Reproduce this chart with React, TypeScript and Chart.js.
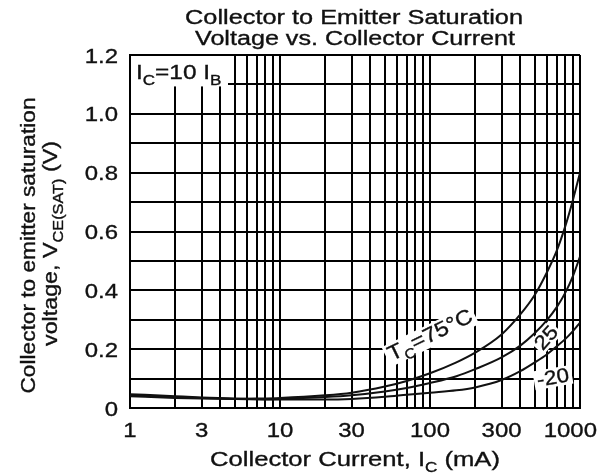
import React, { useEffect, useRef } from 'react';
import { Chart, registerables } from 'chart.js';

Chart.register(...registerables);

// Collector current (mA)
const currents = [1, 2, 3, 5, 7, 10, 20, 30, 50, 70, 100, 150, 200, 300, 400, 500, 600, 700, 800, 900, 1000];
// VCE(SAT) (V) per case temperature
const vce75 = [0.040, 0.034, 0.032, 0.031, 0.032, 0.034, 0.043, 0.052, 0.073, 0.092, 0.118, 0.155, 0.188, 0.250, 0.318, 0.385, 0.460, 0.535, 0.620, 0.710, 0.800];
const vce25 = [0.043, 0.037, 0.034, 0.031, 0.030, 0.031, 0.037, 0.043, 0.056, 0.068, 0.085, 0.108, 0.132, 0.172, 0.212, 0.255, 0.298, 0.343, 0.393, 0.450, 0.515];
const vceM20 = [0.047, 0.040, 0.036, 0.032, 0.030, 0.029, 0.029, 0.031, 0.038, 0.045, 0.052, 0.060, 0.070, 0.095, 0.125, 0.155, 0.182, 0.210, 0.235, 0.262, 0.290];

const xGridValues = [1, 2, 3, 4, 5, 6, 7, 8, 9, 10, 20, 30, 40, 50, 60, 70, 80, 90, 100, 200, 300, 400, 500, 600, 700, 800, 900, 1000];
const xTickLabels = [1, 3, 10, 30, 100, 300, 1000];
const yTickLabels = [0, 0.2, 0.4, 0.6, 0.8, 1.0, 1.2];

const FONT = '"Liberation Sans", Arial, sans-serif';
const INK = '#111';

type Part = { t: string; sub?: boolean };

function measureParts(ctx: CanvasRenderingContext2D, parts: Part[], size: number) {
  let w = 0;
  for (const p of parts) {
    ctx.font = `${p.sub ? Math.round(size * 0.68) : size}px ${FONT}`;
    w += ctx.measureText(p.t).width;
  }
  return w;
}

function drawParts(
  ctx: CanvasRenderingContext2D,
  parts: Part[],
  x: number,
  y: number,
  o: { size: number; align?: 'left' | 'center' | 'right'; sx?: number; width?: number; rot?: number; bg?: number[] }
) {
  const w = measureParts(ctx, parts, o.size);
  const sx = o.width ? o.width / w : o.sx ?? 1;
  ctx.save();
  ctx.translate(x, y);
  if (o.rot) ctx.rotate((o.rot * Math.PI) / 180);
  ctx.scale(sx, 1);
  let cx = o.align === 'right' ? -w : o.align === 'left' ? 0 : -w / 2;
  if (o.bg) {
    const [padX, up, down] = o.bg;
    ctx.fillStyle = '#fff';
    ctx.fillRect(cx - padX / sx, -up, w + (2 * padX) / sx, up + down);
  }
  ctx.fillStyle = INK;
  ctx.strokeStyle = INK;
  ctx.lineWidth = 0.35;
  ctx.textBaseline = 'alphabetic';
  ctx.textAlign = 'left';
  for (const p of parts) {
    const s = p.sub ? Math.round(o.size * 0.68) : o.size;
    ctx.font = `${s}px ${FONT}`;
    const yy = p.sub ? o.size * 0.28 : 0;
    ctx.fillText(p.t, cx, yy);
    ctx.strokeText(p.t, cx, yy);
    cx += ctx.measureText(p.t).width;
  }
  ctx.restore();
}

const textPlugin = {
  id: 'textPlugin',
  beforeDatasetsDraw(chart: any) {
    const ctx = chart.ctx as CanvasRenderingContext2D;
    const { chartArea } = chart;
    const y = chart.scales.y;
    // white box behind the IC = 10 IB note
    ctx.save();
    ctx.fillStyle = '#fff';
    ctx.fillRect(chartArea.left + 1, chartArea.top + 1, 97, y.getPixelForValue(1.1) - chartArea.top + 1);
    ctx.restore();
  },
  afterDatasetsDraw(chart: any) {
    const ctx = chart.ctx as CanvasRenderingContext2D;
    const { chartArea } = chart;
    drawParts(ctx, [{ t: 'I' }, { t: 'C', sub: true }, { t: '=10 I' }, { t: 'B', sub: true }], chartArea.left + 6, chartArea.top + 24, {
      size: 20,
      align: 'left',
      sx: 1.22,
    });
    // curve labels
    drawParts(ctx, [{ t: 'T' }, { t: 'C', sub: true }, { t: '=75°C' }], 433, 341, {
      size: 21,
      sx: 1.12,
      rot: -26,
      bg: [3, 17, 5],
    });
    drawParts(ctx, [{ t: '25' }], 551, 342, { size: 20, sx: 1.12, rot: -48, bg: [2, 16, 3] });
    drawParts(ctx, [{ t: '-20' }], 554, 384, { size: 20, sx: 1.12, rot: -10, bg: [3, 16, 3] });
  },
  afterDraw(chart: any) {
    const ctx = chart.ctx as CanvasRenderingContext2D;
    const { chartArea, width } = chart;
    const x = chart.scales.x;
    const y = chart.scales.y;
    const cx = (chartArea.left + chartArea.right) / 2;
    // titles
    drawParts(ctx, [{ t: 'Collector to Emitter Saturation' }], cx - 1, 24, { size: 20, width: 338 });
    drawParts(ctx, [{ t: 'Voltage vs. Collector Current' }], cx, 45, { size: 20, width: 320 });
    // y tick labels
    for (const v of yTickLabels) {
      const label = v === 0 ? '0' : v.toFixed(1);
      drawParts(ctx, [{ t: label }], chartArea.left - 12, y.getPixelForValue(v) + 7.5, { size: 21, align: 'right', sx: 1.14 });
    }
    // x tick labels
    for (const v of xTickLabels) {
      const label = String(v);
      const w = measureParts(ctx, [{ t: label }], 21) * 1.14;
      let px = x.getPixelForValue(v);
      if (px + w / 2 > width - 16) px = width - 16 - w / 2;
      drawParts(ctx, [{ t: label }], px, 437, { size: 21, sx: 1.14 });
    }
    // x title
    drawParts(ctx, [{ t: 'Collector Current, I' }, { t: 'C', sub: true }, { t: ' (mA)' }], 355, 466, { size: 21, width: 290 });
    // y title (two lines)
    const cy = (chartArea.top + chartArea.bottom) / 2;
    drawParts(ctx, [{ t: 'Collector to emitter saturation' }], 35, cy + 14, { size: 20, width: 296, rot: -90 });
    drawParts(ctx, [{ t: 'voltage, V' }, { t: 'CE(SAT)', sub: true }, { t: ' (V)' }], 57, cy + 12, {
      size: 20,
      width: 205,
      rot: -90,
    });
  },
};

export default function App() {
  const ref = useRef<HTMLCanvasElement | null>(null);
  useEffect(() => {
    if (!ref.current) return;
    const mk = (data: number[]) => ({
      data: currents.map((c, i) => ({ x: c, y: data[i] })),
      borderColor: INK,
      borderWidth: 2,
      pointRadius: 0,
      fill: false,
      cubicInterpolationMode: 'monotone' as const,
    });
    const chart = new Chart(ref.current, {
      type: 'line',
      data: {
        datasets: [mk(vce75), mk(vce25), mk(vceM20)],
      },
      options: {
        animation: false,
        responsive: false,
        devicePixelRatio: 1,
        layout: { padding: { left: 0, top: 55, right: 33, bottom: 0 } },
        plugins: { legend: { display: false }, tooltip: { enabled: false }, title: { display: false } },
        scales: {
          x: {
            type: 'logarithmic',
            min: 1,
            max: 1000,
            afterBuildTicks: (s: any) => {
              s.ticks = xGridValues.map((v) => ({ value: v }));
            },
            afterFit: (s: any) => {
              s.height = 66;
            },
            ticks: { display: false, autoSkip: false },
            grid: { color: '#000', lineWidth: 2, drawTicks: false },
            border: { display: true, color: '#000', width: 2 },
          },
          y: {
            type: 'linear',
            min: 0,
            max: 1.2,
            afterBuildTicks: (s: any) => {
              const t = [];
              for (let i = 0; i <= 12; i++) t.push({ value: i / 10 });
              s.ticks = t;
            },
            afterFit: (s: any) => {
              s.width = 130;
            },
            ticks: { display: false },
            grid: { color: '#000', lineWidth: 2, drawTicks: false },
            border: { display: true, color: '#000', width: 2 },
          },
        },
      },
      plugins: [textPlugin],
    });
    return () => chart.destroy();
  }, []);
  return (
    <div style={{ position: 'fixed', left: 0, top: 0, width: 613, height: 474, background: '#fff' }}>
      <canvas ref={ref} width={613} height={474} style={{ width: 613, height: 474, display: 'block' }} />
    </div>
  );
}
